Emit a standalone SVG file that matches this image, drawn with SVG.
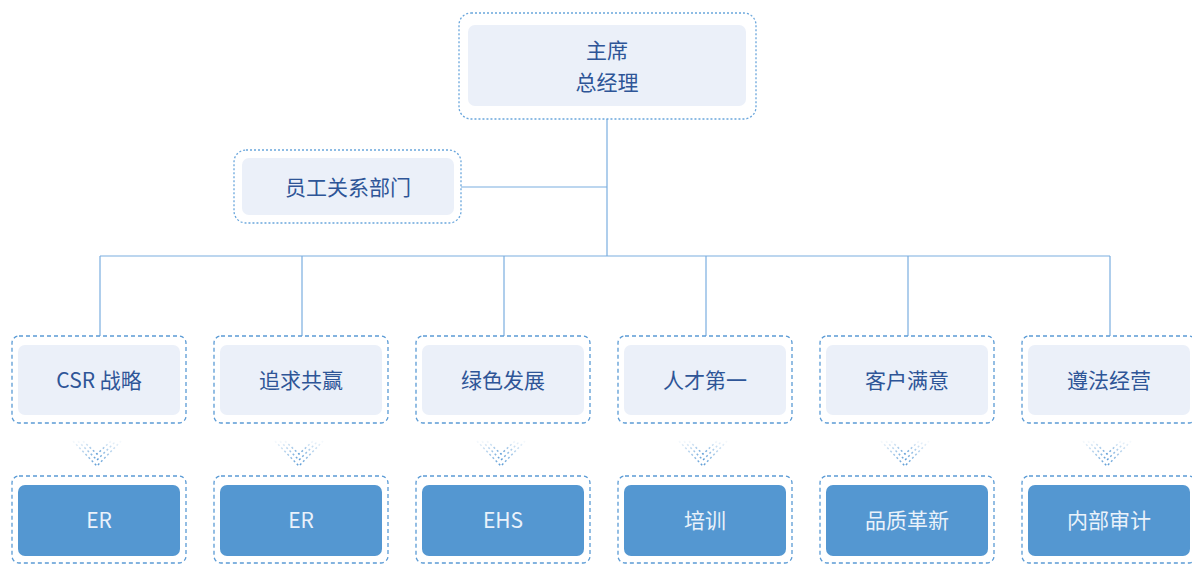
<svg xmlns="http://www.w3.org/2000/svg" width="1192" height="564" viewBox="0 0 1192 564">
<style>
.outer{fill:#fff;stroke:#5B9BD5;stroke-width:1.3;stroke-dasharray:4 3}
.outerd{fill:#fff;stroke:#6AA6DC;stroke-width:1.3;stroke-dasharray:2 2}
.inner{fill:#EBF0F9}
.dark{fill:#5497D1}
.t{font-family:"Noto Sans CJK SC","Noto Sans",sans-serif;font-size:21px;fill:#2E5597;text-anchor:middle;dominant-baseline:central}
.tw{font-family:"Noto Sans CJK SC","Noto Sans",sans-serif;font-size:21px;fill:#EAF2FB;text-anchor:middle;dominant-baseline:central}
.c{stroke:#7AAEE0;stroke-width:1.2;fill:none}
.chev{fill:none;stroke:url(#cg);stroke-width:1.5;stroke-dasharray:2 2.5}
</style>
<defs>
<linearGradient id="cg" x1="0" y1="0" x2="0" y2="1">
<stop offset="0" stop-color="#5B9BD5" stop-opacity="0.05"/>
<stop offset="1" stop-color="#5B9BD5" stop-opacity="1"/>
</linearGradient>
<g id="chevron">
<polyline class="chev" points="-24,0 0,25 24,0"/>
<polyline class="chev" points="-19,0 0,19 19,0"/>
<polyline class="chev" points="-14,0 0,13 14,0"/>
</g>
</defs>
<g id="connectors">
<line class="c" x1="607" y1="119" x2="607" y2="256"/>
<line class="c" x1="461" y1="187" x2="607" y2="187"/>
<line class="c" x1="100" y1="256" x2="1110" y2="256"/>
<line class="c" x1="100" y1="256" x2="100" y2="336"/>
<line class="c" x1="302" y1="256" x2="302" y2="336"/>
<line class="c" x1="504" y1="256" x2="504" y2="336"/>
<line class="c" x1="706" y1="256" x2="706" y2="336"/>
<line class="c" x1="908" y1="256" x2="908" y2="336"/>
<line class="c" x1="1110" y1="256" x2="1110" y2="336"/>
<use href="#chevron" x="97" y="441"/>
<use href="#chevron" x="299" y="441"/>
<use href="#chevron" x="501" y="441"/>
<use href="#chevron" x="703" y="441"/>
<use href="#chevron" x="905" y="441"/>
<use href="#chevron" x="1107" y="441"/>
</g>
<g id="n-top">
<rect class="outerd" x="459" y="13" width="297" height="106" rx="12"/>
<rect class="inner" x="468" y="25" width="278" height="81" rx="7"/>
<text class="t" x="607" y="49">主席</text>
<text class="t" x="607" y="81">总经理</text>
</g>
<g id="n-er">
<rect class="outerd" x="234" y="150" width="227" height="73" rx="12"/>
<rect class="inner" x="242" y="158" width="212" height="57" rx="7"/>
<text class="t" x="348" y="186">员工关系部门</text>
</g>
<g id="n-l1">
<rect class="outer" x="12" y="336" width="174" height="87" rx="7"/>
<rect class="inner" x="18" y="345" width="162" height="70" rx="7"/>
<text class="t" x="99" y="379">CSR 战略</text>
</g>
<g id="n-l2">
<rect class="outer" x="214" y="336" width="174" height="87" rx="7"/>
<rect class="inner" x="220" y="345" width="162" height="70" rx="7"/>
<text class="t" x="301" y="379">追求共赢</text>
</g>
<g id="n-l3">
<rect class="outer" x="416" y="336" width="174" height="87" rx="7"/>
<rect class="inner" x="422" y="345" width="162" height="70" rx="7"/>
<text class="t" x="503" y="379">绿色发展</text>
</g>
<g id="n-l4">
<rect class="outer" x="618" y="336" width="174" height="87" rx="7"/>
<rect class="inner" x="624" y="345" width="162" height="70" rx="7"/>
<text class="t" x="705" y="379">人才第一</text>
</g>
<g id="n-l5">
<rect class="outer" x="820" y="336" width="174" height="87" rx="7"/>
<rect class="inner" x="826" y="345" width="162" height="70" rx="7"/>
<text class="t" x="907" y="379">客户满意</text>
</g>
<g id="n-l6">
<rect class="outer" x="1022" y="336" width="174" height="87" rx="7"/>
<rect class="inner" x="1028" y="345" width="162" height="70" rx="7"/>
<text class="t" x="1109" y="379">遵法经营</text>
</g>
<g id="n-b1">
<rect class="outer" x="12" y="476" width="174" height="87" rx="7"/>
<rect class="dark" x="18" y="485" width="162" height="71" rx="7"/>
<text class="tw" x="99" y="519">ER</text>
</g>
<g id="n-b2">
<rect class="outer" x="214" y="476" width="174" height="87" rx="7"/>
<rect class="dark" x="220" y="485" width="162" height="71" rx="7"/>
<text class="tw" x="301" y="519">ER</text>
</g>
<g id="n-b3">
<rect class="outer" x="416" y="476" width="174" height="87" rx="7"/>
<rect class="dark" x="422" y="485" width="162" height="71" rx="7"/>
<text class="tw" x="503" y="519">EHS</text>
</g>
<g id="n-b4">
<rect class="outer" x="618" y="476" width="174" height="87" rx="7"/>
<rect class="dark" x="624" y="485" width="162" height="71" rx="7"/>
<text class="tw" x="705" y="519">培训</text>
</g>
<g id="n-b5">
<rect class="outer" x="820" y="476" width="174" height="87" rx="7"/>
<rect class="dark" x="826" y="485" width="162" height="71" rx="7"/>
<text class="tw" x="907" y="519">品质革新</text>
</g>
<g id="n-b6">
<rect class="outer" x="1022" y="476" width="174" height="87" rx="7"/>
<rect class="dark" x="1028" y="485" width="162" height="71" rx="7"/>
<text class="tw" x="1109" y="519">内部审计</text>
</g>
</svg>
